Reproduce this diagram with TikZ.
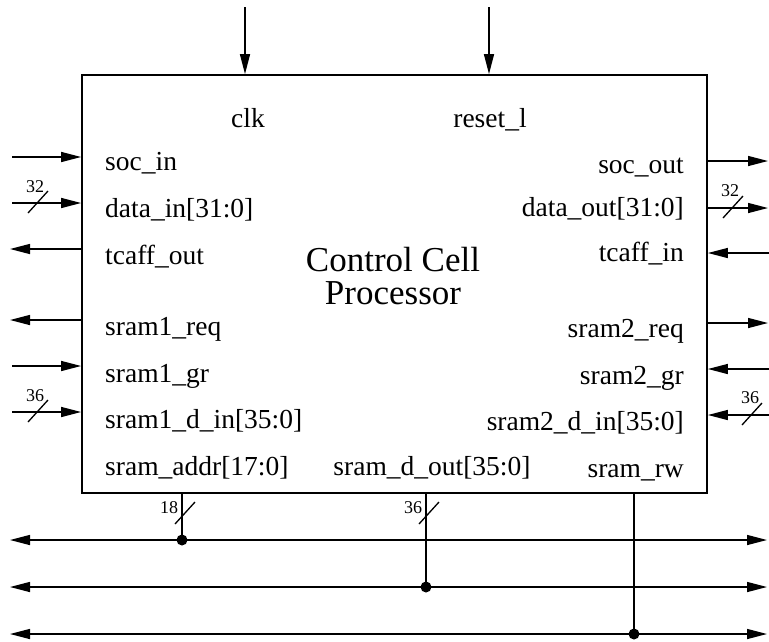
\documentclass[tikz,border=0pt]{standalone}
\usepackage{fontspec}
\setmainfont{Liberation Serif}
\usepackage{tikz}
\usetikzlibrary{arrows.meta,positioning}
\newcommand{\lsig}[3]{\node[lbl,anchor=base west] (#1) at (105,#2) {#3};}
\newcommand{\rsig}[3]{\node[lbl,anchor=base east] (#1) at (684,#2) {#3};}
\newcommand{\bwidth}[4]{\draw[slash] (#2) ++(-9,10) -- ++(20,-22);
  \node[num] (#1) at ([shift={#3}]#2) {#4};}

\begin{document}
\begin{tikzpicture}[x=1pt, y=-1pt,
  lbl/.style={font=\fontsize{27.5}{30}\selectfont, inner sep=0pt},
  num/.style={font=\fontsize{18}{20}\selectfont, inner sep=0pt},
  sig/.style={-{Triangle[length=20pt,width=10pt]}, line width=1.4pt},
  bus/.style={{Triangle[length=20pt,width=10pt]}-{Triangle[length=20pt,width=10pt]}, line width=1.4pt},
  slash/.style={line width=1.3pt},
  tap/.style={circle, fill, inner sep=0pt, minimum size=11pt},
]
\useasboundingbox (0,0) rectangle (769,641);

% Processor block
\node[draw, line width=1.8pt, minimum width=625pt, minimum height=418pt, inner sep=0pt]
  (ccp) at (394.5,284) {};
\node[font=\fontsize{35}{33}\selectfont, align=center, inner sep=0pt] (title) at (393,276)
  {Control Cell\\Processor};

%% -- top inputs ----------------------------------------------------------
\node[lbl,anchor=base] (clk) at (248,127) {clk};
\node[lbl,anchor=base] (rst) at (490,127) {reset\_l};
\coordinate (clkx) at (245,7);
\coordinate (rstx) at (489,7);
\draw[sig] (clkx) -- (clkx |- ccp.north);
\draw[sig] (rstx) -- (rstx |- ccp.north);

%% -- left side -----------------------------------------------------------
\lsig{socin}{170}{soc\_in}
\lsig{datain}{217}{data\_in[31:0]}
\lsig{tcout}{264}{tcaff\_out}
\lsig{sreq}{335}{sram1\_req}
\lsig{sgr}{382}{sram1\_gr}
\lsig{sdin}{428}{sram1\_d\_in[35:0]}
\lsig{saddr}{475}{sram\_addr[17:0]}

\coordinate (socinx) at (12,157);
\coordinate (datainx) at (12,203);
\coordinate (tcoutx) at (10,249);
\coordinate (sreqx) at (10,320);
\coordinate (sgrx) at (12,366);
\coordinate (sdinx) at (12,412);
\draw[sig] (socinx) -- (socinx -| ccp.west);
\draw[sig] (datainx) -- (datainx -| ccp.west);
\draw[sig] (tcoutx -| ccp.west) -- (tcoutx);
\draw[sig] (sreqx -| ccp.west) -- (sreqx);
\draw[sig] (sgrx) -- (sgrx -| ccp.west);
\draw[sig] (sdinx) -- (sdinx -| ccp.west);

\coordinate (w1) at (37,203);
\coordinate (w2) at (37,412);
\bwidth{n1}{w1}{(-2,-16)}{32}
\bwidth{n2}{w2}{(-2,-16)}{36}

%% -- right side ----------------------------------------------------------
\rsig{socout}{173}{soc\_out}
\rsig{dataout}{216}{data\_out[31:0]}
\rsig{tcin}{261}{tcaff\_in}
\rsig{treq}{337}{sram2\_req}
\rsig{tgr}{384}{sram2\_gr}
\rsig{tdin}{430}{sram2\_d\_in[35:0]}
\rsig{srw}{477}{sram\_rw}
\node[lbl,anchor=base] (sdout) at (432,475) {sram\_d\_out[35:0]};

\coordinate (socoutx) at (768,161);
\coordinate (dataoutx) at (768,208);
\coordinate (tcinx) at (769,253);
\coordinate (treqx) at (768,323);
\coordinate (tgrx) at (769,369);
\coordinate (tdinx) at (769,415);
\draw[sig] (socoutx -| ccp.east) -- (socoutx);
\draw[sig] (dataoutx -| ccp.east) -- (dataoutx);
\draw[sig] (tcinx) -- (tcinx -| ccp.east);
\draw[sig] (treqx -| ccp.east) -- (treqx);
\draw[sig] (tgrx) -- (tgrx -| ccp.east);
\draw[sig] (tdinx) -- (tdinx -| ccp.east);

\coordinate (w3) at (732,208);
\coordinate (w4) at (751,415);
\bwidth{n3}{w3}{(-2,-17)}{32}
\bwidth{n4}{w4}{(-1,-17)}{36}

%% -- shared buses --------------------------------------------------------
\coordinate (b1l) at (10,540);  \coordinate (b1r) at (767,540);
\coordinate (b2l) at (10,587);  \coordinate (b2r) at (767,587);
\coordinate (b3l) at (10,634);  \coordinate (b3r) at (767,634);
\draw[bus] (b1l) -- (b1r);
\draw[bus] (b2l) -- (b2r);
\draw[bus] (b3l) -- (b3r);

\node[tap] (d1) at (182,540) {};
\node[tap] (d2) at (426,587) {};
\node[tap] (d3) at (634,634) {};
\draw[line width=1.4pt] (d1 |- ccp.south) -- (d1.center);
\draw[line width=1.4pt] (d2 |- ccp.south) -- (d2.center);
\draw[line width=1.4pt] (d3 |- ccp.south) -- (d3.center);

\coordinate (w5) at (184,514);
\coordinate (w6) at (428,514);
\bwidth{n5}{w5}{(-15,-6)}{18}
\bwidth{n6}{w6}{(-15,-6)}{36}

\end{tikzpicture}
\end{document}
